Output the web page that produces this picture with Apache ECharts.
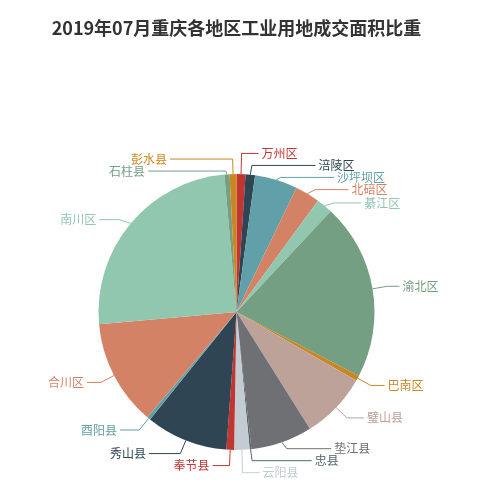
<!DOCTYPE html>
<html>
<head>
<meta charset="utf-8">
<script src="https://cdn.jsdelivr.net/npm/echarts@6/dist/echarts.min.js"></script>
<style>
  html, body { margin: 0; padding: 0; background: #fff; }
  #main { width: 473px; height: 490px; }
</style>
</head>
<body>
<div id="main"></div>
<script>
// 各地区名称（顺时针，从12点方向开始）
var areas = ['万州区', '涪陵区', '沙坪坝区', '北碚区', '綦江区', '渝北区', '巴南区', '璧山县', '垫江县',
    '忠县', '云阳县', '奉节县', '秀山县', '酉阳县', '合川区', '南川区', '石柱县', '彭水县'];
// 成交面积比重（%）
var shares = [1.05, 1.1, 5.0, 2.9, 1.9, 20.7, 0.6, 7.8, 7.2,
    0.2, 1.8, 0.9, 9.6, 0.4, 12.4, 25.0, 0.6, 0.8];

var colors = ['#c23531', '#2f4554', '#61a0a8', '#d48265', '#91c7ae', '#749f83', '#ca8622',
    '#bda29a', '#6e7074', '#546570', '#c4ccd3'];

var W = 473, H = 490;
var cx = W / 2, cy = 312, R = 138;
var LEN1 = 15, LEN2 = 15, LABEL_H = 12;

// 标签布局：仿照旧版 echarts 的饼图标签避让（上下平衡挤开，再按圆弧重算 x）
function adjustSide(list, dir) {
    if (!list.length) return;
    list.sort(function (a, b) { return a.y - b.y; });
    var len = list.length;

    function shiftUp(end, delta) {
        for (var j = end; j >= 0; j--) {
            if (list[j].y - delta < 0) break;
            list[j].y -= delta;
            if (j > 0 && list[j].y > list[j - 1].y + list[j - 1].height) break;
        }
    }
    function shiftDown(start, end, delta) {
        for (var j = start; j < end; j++) {
            if (list[j].y + delta > H) break;
            list[j].y += delta;
            if (j > start && j + 1 < end && list[j + 1].y > list[j].y + list[j].height) {
                shiftUp(j, delta / 2);
                return;
            }
        }
        shiftUp(end - 1, delta / 2);
    }
    function changeX(sub, isDown) {
        var last = isDown ? Number.MAX_VALUE : 0;
        for (var i = 0; i < sub.length; i++) {
            var dy = Math.abs(sub[i].y - cy);
            var rr = R + LEN1 + LEN2;
            var dx = dy < R + LEN1 ? Math.sqrt(rr * rr - dy * dy) : Math.abs(sub[i].x - cx);
            if (isDown && dx >= last) dx = last - 10;
            if (!isDown && dx <= last) dx = last + 10;
            sub[i].x = cx + dx * dir;
            last = dx;
        }
    }

    var lastY = 0;
    for (var i = 0; i < len; i++) {
        var d = list[i].y - lastY;
        if (d < 0) shiftDown(i, len, -d);
        lastY = list[i].y + list[i].height;
    }
    if (H - lastY < 0) shiftUp(len - 1, lastY - H);

    var up = [], down = [];
    for (var k = 0; k < len; k++) {
        if (list[k].y >= cy) down.push(list[k]); else up.push(list[k]);
    }
    changeX(up, false);
    changeX(down, true);
}

function computeLabels() {
    var total = 0;
    for (var i = 0; i < shares.length; i++) total += shares[i];
    var acc = 0, items = [], left = [], right = [];
    for (var i = 0; i < shares.length; i++) {
        var f = (acc + shares[i] / 2) / total;
        acc += shares[i];
        var a = f * 2 * Math.PI;
        var dx = Math.sin(a), dy = -Math.cos(a);
        var dir = dx < 0 ? -1 : 1;
        var x2 = cx + (R + LEN1) * dx, y2 = cy + (R + LEN1) * dy;
        var it = {
            idx: i, dir: dir, height: LABEL_H,
            p1: [cx + R * dx, cy + R * dy], x2: x2,
            x: x2 + dir * LEN2 + dir * 5, y: y2
        };
        items.push(it);
        if (it.x < cx) left.push(it); else right.push(it);
    }
    adjustSide(left, -1);
    adjustSide(right, 1);
    return items;
}
var labelPos = computeLabels();

var pieData = [];
for (var i = 0; i < areas.length; i++) {
    pieData.push({ name: areas[i], value: shares[i] });
}

var chart = echarts.init(document.getElementById('main'));
var option = {
    color: colors,
    animation: false,
    title: {
        text: '2019年07月重庆各地区工业用地成交面积比重',
        left: 'center',
        top: 14,
        textStyle: {
            color: '#333',
            fontSize: 18,
            fontWeight: 'bold',
            fontFamily: 'Noto Sans CJK SC'
        }
    },
    series: [{
        name: '成交面积比重',
        type: 'pie',
        radius: R,
        center: [cx, cy],
        startAngle: 90,
        clockwise: true,
        avoidLabelOverlap: false,
        data: pieData,
        label: {
            color: 'inherit',
            fontSize: 12,
            fontFamily: 'Noto Sans CJK SC'
        },
        labelLine: {
            length: LEN1,
            length2: LEN2,
            lineStyle: { width: 1 }
        },
        labelLayout: function (params) {
            var p = labelPos[params.dataIndex];
            return {
                x: p.x,
                y: p.y,
                align: p.dir < 0 ? 'right' : 'left',
                verticalAlign: 'middle',
                labelLinePoints: [p.p1, [p.x2, p.y], [p.x - p.dir * 3, p.y]]
            };
        }
    }]
};
chart.setOption(option);
</script>
</body>
</html>
